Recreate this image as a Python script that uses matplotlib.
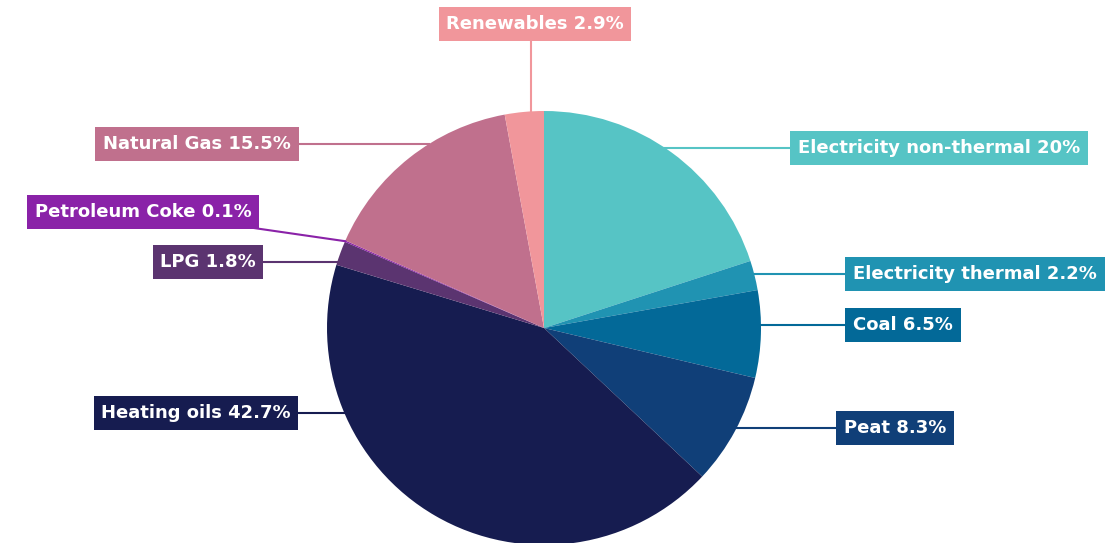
import numpy as np
import matplotlib
matplotlib.use("Agg")
import matplotlib.pyplot as plt

# share of each fuel (%)
fuels = ["Electricity non-thermal", "Electricity thermal", "Coal", "Peat",
         "Heating oils", "LPG", "Petroleum Coke", "Natural Gas", "Renewables"]
shares = [20, 2.2, 6.5, 8.3, 42.7, 1.8, 0.1, 15.5, 2.9]
share_text = ["20%", "2.2%", "6.5%", "8.3%", "42.7%", "1.8%", "0.1%", "15.5%", "2.9%"]
colors = ["#56C4C5", "#2093B2", "#036998", "#103F78", "#161C50",
          "#5B3470", "#8A22A8", "#C0708D", "#F1969B"]

W, H = 1114, 543
cx, cy, r = 544, H - 328, 217

# label box centre (x, y in pixels from top) and leader style
label_pos = {
    "Electricity non-thermal": (939, 148, "h"),
    "Electricity thermal": (975, 274, "h"),
    "Coal": (903, 325, "h"),
    "Peat": (895, 428, "h"),
    "Heating oils": (196, 413, "h"),
    "LPG": (208, 262, "h"),
    "Petroleum Coke": (143, 212, "d"),
    "Natural Gas": (197, 144, "h"),
    "Renewables": (535, 24, "v"),
}

fig = plt.figure(figsize=(W / 100, H / 100), dpi=100)
ax = fig.add_axes([0, 0, 1, 1])

ax.pie(shares, colors=colors, startangle=90, counterclock=False,
       center=(cx, cy), radius=r, frame=True,
       wedgeprops=dict(linewidth=0))
ax.set_xlim(0, W)
ax.set_ylim(0, H)
ax.set_aspect("equal")
ax.axis("off")

# wedge mid angles, clockwise from the top
bounds = 90 - np.cumsum([0] + shares) * 3.6
mids = (bounds[:-1] + bounds[1:]) / 2

for i, name in enumerate(fuels):
    lx, ly, style = label_pos[name]
    ly = H - ly
    ax.text(lx, ly, f"{name} {share_text[i]}", ha="center", va="center",
            color="white", fontsize=13, fontweight="bold", family="DejaVu Sans",
            bbox=dict(boxstyle="square,pad=0.42", fc=colors[i], ec="none"),
            zorder=5)
    if style == "h":
        side = 1 if lx > cx else -1
        ex = cx + side * np.sqrt(r ** 2 - (ly - cy) ** 2)
        ax.plot([lx, ex], [ly, ly], color=colors[i], lw=1.5, zorder=1)
    elif style == "v":
        ey = cy + np.sqrt(r ** 2 - (531 - cx) ** 2)
        ax.plot([531, 531], [ly, ey], color=colors[i], lw=1.5, zorder=1)
    else:
        a = np.deg2rad(mids[i])
        ex, ey = cx + r * np.cos(a), cy + r * np.sin(a)
        ax.plot([lx, ex], [ly, ey], color=colors[i], lw=1.5, zorder=1)

fig.savefig("out.png", dpi=100, facecolor="white")
